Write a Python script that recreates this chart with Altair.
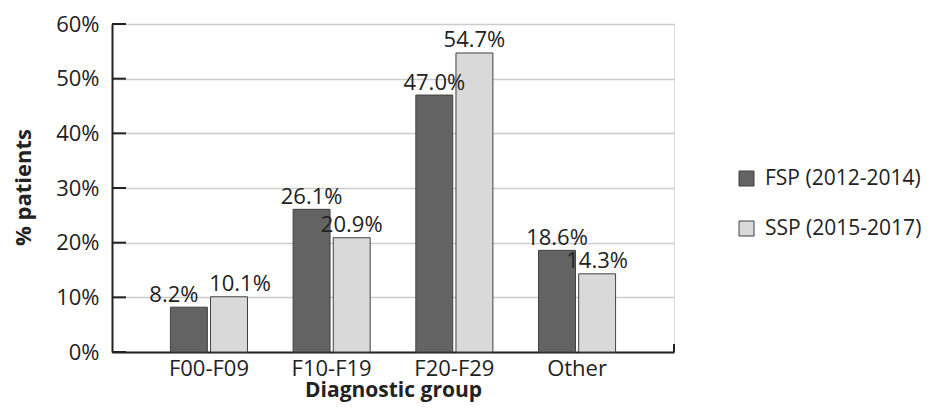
import altair as alt
import pandas as pd

categories = ["F00-F09", "F10-F19", "F20-F29", "Other"]
series = ["FSP (2012-2014)", "SSP (2015-2017)"]
fsp = [8.2, 26.1, 47.0, 18.6]
ssp = [10.1, 20.9, 54.7, 14.3]
y_ticks = [0, 10, 20, 30, 40, 50, 60]

rows = []
for c, a, b in zip(categories, fsp, ssp):
    rows.append({"group": c, "series": series[0], "value": a / 100})
    rows.append({"group": c, "series": series[1], "value": b / 100})
df = pd.DataFrame(rows)
df["label"] = df["value"].map(lambda v: f"{v * 100:.1f}%")
ticks_df = pd.DataFrame({"value": [v / 100 for v in y_ticks]})

FONT = "Open Sans"
FS = 22
W, H = 562, 328

x_enc = alt.X(
    "group:N", sort=categories,
    scale=alt.Scale(paddingInner=0.372, paddingOuter=0.476),
    axis=alt.Axis(title="Diagnostic group", labelAngle=0, ticks=False,
                  labelPadding=6, labelFontSize=FS, labelColor="#222",
                  titleFontSize=21, titleFontWeight="bold", titleColor="#222",
                  titleY=44, titleBaseline="alphabetic",
                  domainColor="#222", domainWidth=2, grid=False),
)
xo_enc = alt.XOffset("series:N", sort=series, scale=alt.Scale(paddingInner=0.08))
y_scale = alt.Scale(domain=[0, 0.6])
y_axis = alt.Axis(title="% patients", values=[v / 100 for v in y_ticks], format=".0%",
                  ticks=False, labelPadding=13, labelFontSize=FS, labelColor="#222",
                  titleFontSize=FS, titleFontWeight="bold", titleColor="#222",
                  titleX=-89, titleY=163, titleAngle=-90, titleBaseline="middle",
                  domainColor="#222", domainWidth=2,
                  grid=True, gridColor="#cccccc", gridWidth=1.5)
y_enc = alt.Y("value:Q", scale=y_scale, axis=y_axis)

base = alt.Chart(df)

bars = base.mark_bar(stroke="#404040", strokeWidth=1).encode(
    x=x_enc, xOffset=xo_enc, y=y_enc,
    color=alt.Color("series:N", sort=series,
                    scale=alt.Scale(domain=series, range=["#636363", "#d9d9d9"]),
                    legend=alt.Legend(title=None, orient="none", legendX=624, legendY=144,
                                      symbolType="square", symbolSize=225,
                                      symbolStrokeColor="#404040", symbolStrokeWidth=1,
                                      labelFontSize=21, labelColor="#222", labelFont=FONT,
                                      labelOffset=8, rowPadding=28, padding=0,
                                      labelLimit=400)),
)

text_common = dict(baseline="alphabetic", dy=-5.5, fontSize=FS, font=FONT, color="#222")

labels = base.transform_filter(alt.datum.group != "F00-F09").mark_text(**text_common).encode(
    x=x_enc, xOffset=xo_enc, y=y_enc, text="label:N")
lab_a = base.transform_filter(
    (alt.datum.group == "F00-F09") & (alt.datum.series == series[0])
).mark_text(dx=-15, **text_common).encode(
    x=x_enc, xOffset=xo_enc, y=y_enc, text="label:N")
lab_b = base.transform_filter(
    (alt.datum.group == "F00-F09") & (alt.datum.series == series[1])
).mark_text(dx=11, **text_common).encode(
    x=x_enc, xOffset=xo_enc, y=y_enc, text="label:N")

yticks = alt.Chart(ticks_df).mark_rule(color="#222", strokeWidth=2).encode(
    y=y_enc, x=alt.value(0), x2=alt.value(14),
)
end_tick = alt.Chart(pd.DataFrame({"a": [0]})).mark_rule(color="#222", strokeWidth=2).encode(
    x=alt.value(W), y=alt.value(H - 8), y2=alt.value(H),
)

chart = alt.layer(bars, labels, lab_a, lab_b, yticks, end_tick).properties(
    width=W, height=H,
    autosize=alt.AutoSizeParams(type="none"),
    padding={"left": 104, "top": 16, "right": 252, "bottom": 50},
).configure_view(
    stroke="#c4c4c4", strokeWidth=1.5
).configure(
    font=FONT, background="white"
)

chart.save("out.html", embed_options={"renderer": "svg", "actions": False})
